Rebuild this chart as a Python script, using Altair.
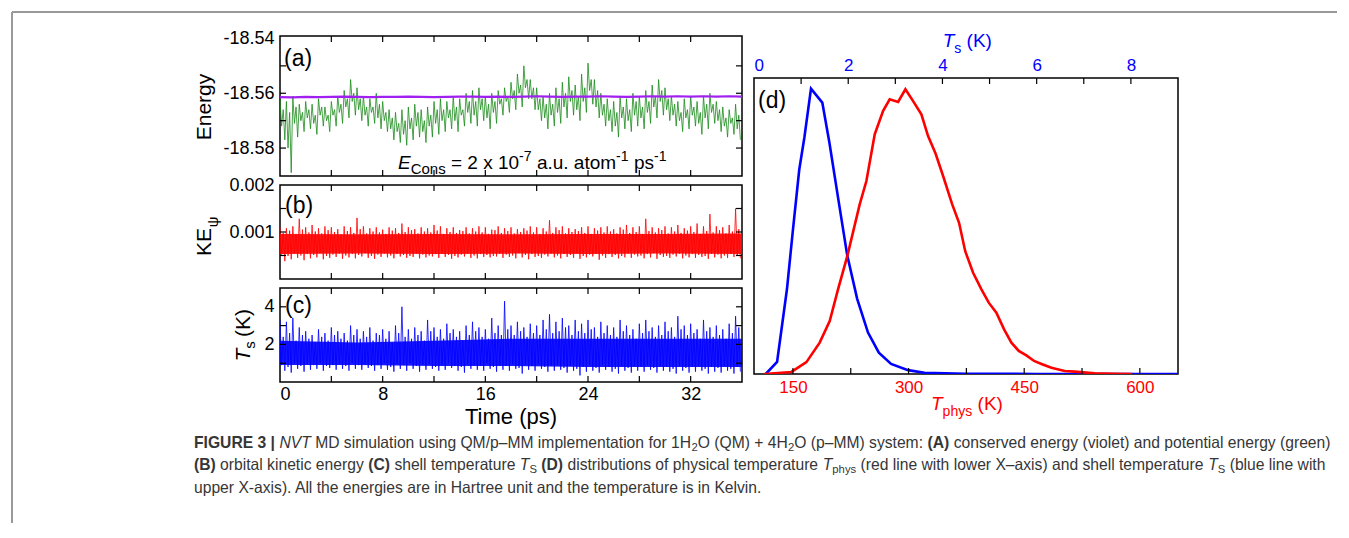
import altair as alt
import pandas as pd

FONT = "Liberation Sans"
DUMMY = pd.DataFrame({"k": [0]})

# ---------------- data ----------------
STEP = 0.5  # ps between successive groups of local extremes

# (a) potential energy (green): maxima (hi, hi2) and minima (lo, lo2) inside every 0.5 ps
green_hi = [-18.562, -18.563, -18.561, -18.564, -18.563, -18.564, -18.562, -18.565, -18.563, -18.561,
            -18.559, -18.555, -18.558, -18.561, -18.562, -18.560, -18.563, -18.566, -18.567, -18.566,
            -18.565, -18.564, -18.566, -18.565, -18.563, -18.562, -18.563, -18.561, -18.562, -18.560,
            -18.559, -18.558, -18.561, -18.560, -18.559, -18.558, -18.556, -18.553, -18.550, -18.555,
            -18.558, -18.561, -18.560, -18.558, -18.556, -18.554, -18.557, -18.553, -18.549, -18.555,
            -18.560, -18.562, -18.563, -18.561, -18.562, -18.560, -18.561, -18.559, -18.557, -18.555,
            -18.558, -18.561, -18.563, -18.562, -18.561, -18.563, -18.561, -18.560, -18.563, -18.565,
            -18.566, -18.564]
green_lo = [-18.577, -18.589, -18.576, -18.574, -18.573, -18.575, -18.572, -18.574, -18.572, -18.571,
            -18.569, -18.568, -18.570, -18.572, -18.571, -18.573, -18.574, -18.577, -18.578, -18.579,
            -18.577, -18.576, -18.578, -18.576, -18.575, -18.574, -18.573, -18.574, -18.572, -18.571,
            -18.572, -18.570, -18.573, -18.571, -18.568, -18.567, -18.566, -18.565, -18.562, -18.566,
            -18.570, -18.573, -18.572, -18.571, -18.569, -18.568, -18.570, -18.567, -18.564, -18.569,
            -18.572, -18.574, -18.576, -18.573, -18.574, -18.572, -18.573, -18.571, -18.569, -18.568,
            -18.570, -18.572, -18.574, -18.573, -18.572, -18.575, -18.573, -18.571, -18.574, -18.576,
            -18.575, -18.577]
green_hi2 = [-18.566, -18.567, -18.565, -18.567, -18.566, -18.568, -18.565, -18.568, -18.566, -18.564,
             -18.562, -18.560, -18.562, -18.565, -18.565, -18.564, -18.567, -18.569, -18.571, -18.570,
             -18.569, -18.567, -18.570, -18.568, -18.566, -18.566, -18.566, -18.565, -18.566, -18.563,
             -18.563, -18.562, -18.564, -18.563, -18.562, -18.561, -18.559, -18.557, -18.555, -18.558,
             -18.562, -18.564, -18.564, -18.562, -18.560, -18.559, -18.561, -18.558, -18.555, -18.559,
             -18.564, -18.566, -18.567, -18.565, -18.566, -18.563, -18.565, -18.563, -18.561, -18.559,
             -18.562, -18.564, -18.567, -18.566, -18.565, -18.567, -18.564, -18.564, -18.566, -18.569,
             -18.569, -18.568]
green_lo2 = [-18.572, -18.580, -18.571, -18.570, -18.569, -18.571, -18.568, -18.570, -18.568, -18.567,
             -18.565, -18.563, -18.566, -18.568, -18.567, -18.569, -18.570, -18.573, -18.574, -18.575,
             -18.573, -18.572, -18.574, -18.572, -18.571, -18.570, -18.569, -18.570, -18.568, -18.567,
             -18.568, -18.566, -18.569, -18.567, -18.564, -18.563, -18.562, -18.560, -18.558, -18.562,
             -18.566, -18.569, -18.568, -18.567, -18.565, -18.563, -18.566, -18.563, -18.559, -18.565,
             -18.568, -18.570, -18.572, -18.569, -18.570, -18.568, -18.569, -18.567, -18.565, -18.563,
             -18.566, -18.568, -18.570, -18.569, -18.568, -18.571, -18.569, -18.567, -18.570, -18.572,
             -18.571, -18.573]
# (a) conserved energy (violet), one value per ps
violet_t = list(range(0, 37))
violet_v = [-18.5614, -18.5615, -18.5613, -18.5614, -18.5613, -18.5612, -18.5613, -18.5614, -18.5613, -18.5613,
            -18.5612, -18.5613, -18.5614, -18.5613, -18.5612, -18.5612, -18.5613, -18.5612, -18.5613, -18.5612,
            -18.5611, -18.5612, -18.5613, -18.5612, -18.5612, -18.5611, -18.5612, -18.5613, -18.5612, -18.5611,
            -18.5612, -18.5611, -18.5612, -18.5611, -18.5612, -18.5611, -18.5612]

# (b) orbital kinetic energy (red)
ke_hi = [0.00110, 0.00108, 0.00112, 0.00128, 0.00110, 0.00115, 0.00108, 0.00112, 0.00110, 0.00106,
         0.00112, 0.00110, 0.00130, 0.00112, 0.00108, 0.00110, 0.00105, 0.00110, 0.00108, 0.00118,
         0.00110, 0.00106, 0.00110, 0.00108, 0.00115, 0.00112, 0.00108, 0.00110, 0.00104, 0.00110,
         0.00108, 0.00112, 0.00110, 0.00105, 0.00112, 0.00108, 0.00110, 0.00106, 0.00108, 0.00112,
         0.00110, 0.00108, 0.00125, 0.00110, 0.00112, 0.00108, 0.00106, 0.00110, 0.00112, 0.00108,
         0.00110, 0.00112, 0.00106, 0.00110, 0.00115, 0.00110, 0.00112, 0.00128, 0.00110, 0.00108,
         0.00112, 0.00110, 0.00115, 0.00108, 0.00112, 0.00118, 0.00112, 0.00138, 0.00112, 0.00110,
         0.00115, 0.00150]
ke_lo = [0.00038, 0.00042, 0.00045, 0.00040, 0.00044, 0.00046, 0.00042, 0.00045, 0.00047, 0.00043,
         0.00046, 0.00044, 0.00048, 0.00045, 0.00043, 0.00047, 0.00046, 0.00044, 0.00048, 0.00045,
         0.00047, 0.00044, 0.00046, 0.00048, 0.00045, 0.00047, 0.00043, 0.00046, 0.00048, 0.00045,
         0.00044, 0.00047, 0.00046, 0.00048, 0.00045, 0.00047, 0.00044, 0.00046, 0.00042, 0.00047,
         0.00045, 0.00048, 0.00046, 0.00044, 0.00047, 0.00045, 0.00043, 0.00046, 0.00048, 0.00041,
         0.00045, 0.00047, 0.00044, 0.00046, 0.00045, 0.00048, 0.00044, 0.00046, 0.00043, 0.00047,
         0.00045, 0.00048, 0.00044, 0.00046, 0.00045, 0.00047, 0.00043, 0.00046, 0.00044, 0.00045,
         0.00047, 0.00044]
ke_hi2 = [0.00098, 0.00103, 0.00096, 0.00105, 0.00099, 0.00101, 0.00097, 0.00104, 0.00100, 0.00095,
          0.00102, 0.00098, 0.00106, 0.00097, 0.00101, 0.00099, 0.00096, 0.00103, 0.00098, 0.00100,
          0.00104, 0.00097, 0.00101, 0.00099, 0.00103, 0.00096, 0.00100, 0.00098, 0.00102, 0.00097,
          0.00101, 0.00099, 0.00096, 0.00104, 0.00098, 0.00102, 0.00097, 0.00100, 0.00103, 0.00099,
          0.00096, 0.00101, 0.00098, 0.00104, 0.00097, 0.00100, 0.00102, 0.00098, 0.00096, 0.00103,
          0.00099, 0.00101, 0.00097, 0.00105, 0.00098, 0.00100, 0.00096, 0.00102, 0.00099, 0.00104,
          0.00097, 0.00101, 0.00098, 0.00103, 0.00100, 0.00096, 0.00102, 0.00099, 0.00104, 0.00097,
          0.00101, 0.00106]
ke_lo2 = [0.00052, 0.00049, 0.00054, 0.00050, 0.00053, 0.00051, 0.00055, 0.00049, 0.00052, 0.00054,
          0.00050, 0.00053, 0.00051, 0.00055, 0.00049, 0.00052, 0.00054, 0.00050, 0.00053, 0.00051,
          0.00049, 0.00054, 0.00052, 0.00050, 0.00053, 0.00055, 0.00051, 0.00049, 0.00052, 0.00054,
          0.00050, 0.00053, 0.00051, 0.00049, 0.00054, 0.00052, 0.00050, 0.00055, 0.00051, 0.00053,
          0.00049, 0.00052, 0.00054, 0.00050, 0.00053, 0.00051, 0.00055, 0.00049, 0.00052, 0.00054,
          0.00050, 0.00053, 0.00051, 0.00049, 0.00054, 0.00052, 0.00050, 0.00053, 0.00055, 0.00051,
          0.00049, 0.00052, 0.00054, 0.00050, 0.00053, 0.00051, 0.00049, 0.00054, 0.00052, 0.00050,
          0.00053, 0.00051]
core_t = [0, 6, 12, 18, 24, 30, 36]
ke_core_lo = [0.00053, 0.00054, 0.00053, 0.00054, 0.00053, 0.00054, 0.00053]
ke_core_hi = [0.00096, 0.00095, 0.00096, 0.00095, 0.00096, 0.00096, 0.00097]

# (c) shell temperature (blue)
ts_hi = [3.3, 3.2, 3.4, 2.9, 2.7, 2.5, 2.8, 2.6, 2.9, 2.7,
         2.6, 3.0, 2.8, 2.7, 2.9, 2.6, 2.8, 2.7, 3.0, 4.0,
         2.8, 2.9, 2.7, 3.3, 2.9, 2.8, 3.1, 2.8, 2.7, 3.0,
         3.2, 2.9, 2.8, 3.4, 3.0, 4.3, 3.0, 3.2, 2.9, 3.1,
         3.0, 3.3, 3.6, 3.2, 3.4, 3.0, 3.3, 3.1, 3.3, 2.9,
         3.2, 3.0, 2.9, 3.3, 3.0, 2.8, 3.1, 3.3, 2.9, 3.0,
         3.2, 2.9, 3.5, 3.0, 3.1, 2.8, 3.3, 2.9, 3.0, 2.8,
         3.1, 3.5]
ts_lo = [0.6, 0.5, 0.7, 0.55, 0.65, 0.7, 0.6, 0.75, 0.65, 0.7,
         0.6, 0.7, 0.65, 0.75, 0.6, 0.7, 0.65, 0.55, 0.7, 0.6,
         0.7, 0.55, 0.65, 0.7, 0.6, 0.65, 0.75, 0.6, 0.5, 0.7,
         0.65, 0.6, 0.7, 0.55, 0.65, 0.6, 0.7, 0.45, 0.65, 0.6,
         0.7, 0.55, 0.6, 0.65, 0.5, 0.6, 0.35, 0.55, 0.6, 0.5,
         0.65, 0.55, 0.45, 0.6, 0.5, 0.6, 0.55, 0.65, 0.5, 0.6,
         0.55, 0.45, 0.6, 0.5, 0.55, 0.6, 0.45, 0.55, 0.5, 0.6,
         0.45, 0.55]
ts_hi2 = [2.4, 2.6, 2.2, 2.5, 2.3, 2.1, 2.4, 2.2, 2.5, 2.3,
          2.2, 2.5, 2.3, 2.4, 2.2, 2.5, 2.3, 2.1, 2.6, 2.4,
          2.3, 2.5, 2.2, 2.7, 2.4, 2.3, 2.6, 2.4, 2.2, 2.5,
          2.7, 2.4, 2.3, 2.6, 2.5, 2.8, 2.5, 2.7, 2.4, 2.6,
          2.5, 2.8, 2.6, 2.7, 2.9, 2.5, 2.7, 2.6, 2.8, 2.4,
          2.6, 2.5, 2.4, 2.7, 2.5, 2.3, 2.6, 2.7, 2.4, 2.5,
          2.7, 2.4, 2.8, 2.5, 2.6, 2.3, 2.7, 2.4, 2.5, 2.3,
          2.6, 2.9]
ts_lo2 = [0.9, 0.8, 1.0, 0.85, 0.95, 0.9, 1.0, 0.85, 0.9, 0.95,
          0.85, 1.0, 0.9, 0.95, 0.85, 0.9, 1.0, 0.8, 0.95, 0.9,
          1.0, 0.85, 0.9, 0.95, 0.8, 0.9, 1.0, 0.85, 0.8, 0.95,
          0.9, 0.85, 1.0, 0.8, 0.9, 0.85, 0.95, 0.75, 0.9, 0.85,
          0.95, 0.8, 0.85, 0.9, 0.75, 0.85, 0.7, 0.8, 0.9, 0.75,
          0.9, 0.8, 0.7, 0.85, 0.75, 0.85, 0.8, 0.9, 0.75, 0.85,
          0.8, 0.7, 0.85, 0.75, 0.8, 0.85, 0.7, 0.8, 0.75, 0.85,
          0.7, 0.8]
ts_core_lo = [0.9, 0.9, 0.85, 0.85, 0.8, 0.8, 0.8]
ts_core_hi = [2.2, 2.1, 2.2, 2.3, 2.3, 2.3, 2.3]

# (d) distributions
tphys_T = [113, 148, 167.5, 184.7, 197.7, 208.5, 220.6, 236.6, 245.3, 256.1, 267, 275.5, 286.4, 295.9,
           305.9, 316.6, 325.3, 335, 344.8, 356.5, 365.5, 373.5, 383.7, 394.5, 404, 413.9, 423.9,
           433.4, 442.9, 452.8, 462.8, 473.2, 485.3, 502.5, 515.5, 541.5, 567.5, 590]
tphys_p = [0, 0.007, 0.04, 0.106, 0.179, 0.286, 0.399, 0.573, 0.652, 0.81, 0.889, 0.928, 0.919, 0.962,
           0.922, 0.877, 0.804, 0.745, 0.669, 0.574, 0.511, 0.415, 0.342, 0.286, 0.241, 0.207, 0.151,
           0.106, 0.078, 0.063, 0.044, 0.033, 0.021, 0.010, 0.008, 0.002, 0.001, 0]
tsd_T = [0.25, 0.49, 0.70, 0.82, 0.96, 1.07, 1.21, 1.45, 1.60, 1.78, 1.98, 2.19, 2.42, 2.65, 2.91,
         3.27, 3.62, 4.5, 6.0, 9.0]
tsd_p = [0, 0.041, 0.287, 0.477, 0.69, 0.80, 0.964, 0.917, 0.782, 0.600, 0.40, 0.254, 0.14, 0.072,
         0.034, 0.013, 0.004, 0.001, 0, 0]

# tick values
time_labels = [0, 8, 16, 24, 32]
time_ticks = [4, 8, 12, 16, 20, 24, 28, 32]
energy_labels = [-18.54, -18.56, -18.58]
energy_ticks = [-18.55, -18.56, -18.57, -18.58]
ke_labels = [0.001, 0.002]
ke_ticks = [0.0005, 0.001, 0.0015]
ts_labels = [2, 4]
ts_ticks = [1, 2, 3, 4]
tphys_labels = [150, 300, 450, 600]
tphys_ticks = [150, 225, 300, 375, 450, 525, 600]
tstop_labels = [0, 2, 4, 6, 8]
tstop_ticks = [1, 2, 3, 4, 5, 6, 7, 8]

# ---------------- helpers ----------------
W_REG = {' ': 278, '(': 333, ')': 333, '+': 584, ',': 278, '-': 333, '.': 278, '/': 278, ':': 278,
         '=': 584, '|': 260, '\u2013': 556,
         'A': 667, 'B': 667, 'C': 722, 'D': 722, 'E': 667, 'F': 611, 'G': 778, 'H': 722, 'I': 278,
         'J': 500, 'K': 667, 'L': 556, 'M': 833, 'N': 722, 'O': 778, 'P': 667, 'Q': 778, 'R': 722,
         'S': 667, 'T': 611, 'U': 722, 'V': 667, 'W': 944, 'X': 667, 'Y': 667, 'Z': 611,
         'a': 556, 'b': 556, 'c': 500, 'd': 556, 'e': 556, 'f': 278, 'g': 556, 'h': 556, 'i': 222,
         'j': 222, 'k': 500, 'l': 222, 'm': 833, 'n': 556, 'o': 556, 'p': 556, 'q': 556, 'r': 333,
         's': 500, 't': 278, 'u': 556, 'v': 500, 'w': 722, 'x': 500, 'y': 500, 'z': 500}
for _d in "0123456789":
    W_REG[_d] = 556
W_BOLD = dict(W_REG)
W_BOLD.update({'A': 722, 'B': 722, 'C': 722, 'D': 722, '|': 280})


def tw(s, size, bold=False):
    tb = W_BOLD if bold else W_REG
    return sum(tb.get(c, 556) for c in s) * size / 1000.0


def seg_size(kind, base, sub_r, sup_r):
    if kind == "sub":
        return base * sub_r
    if kind == "sup":
        return base * sup_r
    return base


def seg_width(segs, base, sub_r=0.72, sup_r=0.72):
    return sum(tw(t, seg_size(k, base, sub_r, sup_r), k == "bold") for t, k in segs)


def seg_marks(segs, x0, y0, color, base, sub_r=0.72, sup_r=0.72, sub_dy=0.22, sup_dy=-0.4):
    marks = []
    x = x0
    for text, kind in segs:
        size = seg_size(kind, base, sub_r, sup_r)
        bold = kind == "bold"
        dy = base * sub_dy if kind == "sub" else (base * sup_dy if kind == "sup" else 0)
        lead = len(text) - len(text.lstrip(" "))
        body = text.strip(" ")
        if body:
            kw = dict(text=body, font=FONT, fontSize=size, align="left", baseline="alphabetic", color=color)
            if bold:
                kw["fontWeight"] = "bold"
            if kind == "ital":
                kw["fontStyle"] = "italic"
            marks.append(alt.Chart(DUMMY).mark_text(**kw).encode(
                x=alt.value(x + tw(" " * lead, size, bold)), y=alt.value(y0 + dy)))
        x += tw(text, size, bold)
    return marks


def label(text, x, y, size=23, color="black", angle=None, style=None, align="left"):
    kw = dict(text=text, font=FONT, fontSize=size, align=align, baseline="middle", color=color)
    if angle is not None:
        kw["angle"] = angle
    if style:
        kw["fontStyle"] = style
    return alt.Chart(DUMMY).mark_text(**kw).encode(x=alt.value(x), y=alt.value(y))


def zigzag(hi, lo2, hi2, lo):
    rows = []
    q = STEP / 4
    for i in range(len(hi)):
        t0 = STEP * i
        rows.append({"t": t0, "v": hi[i], "o": 4 * i})
        rows.append({"t": t0 + q, "v": lo2[i], "o": 4 * i + 1})
        rows.append({"t": t0 + 2 * q, "v": hi2[i], "o": 4 * i + 2})
        rows.append({"t": t0 + 3 * q, "v": lo[i], "o": 4 * i + 3})
    return pd.DataFrame(rows)


TSCALE = alt.Scale(domain=[0, 36], nice=False, zero=False)


def xenc(axis=None):
    return alt.X("t:Q", scale=TSCALE, axis=axis)


def tick_layers(xvals, yvals, W, H, xe, ye, L=6):
    out = []
    dx = pd.DataFrame({"t": xvals})
    dy = pd.DataFrame({"v": yvals})
    out.append(alt.Chart(dx).mark_rule(color="black", strokeWidth=1.2).encode(x=xe, y=alt.value(H), y2=alt.value(H - L)))
    out.append(alt.Chart(dx).mark_rule(color="black", strokeWidth=1.2).encode(x=xe, y=alt.value(0), y2=alt.value(L)))
    out.append(alt.Chart(dy).mark_rule(color="black", strokeWidth=1.2).encode(y=ye, x=alt.value(0), x2=alt.value(L)))
    out.append(alt.Chart(dy).mark_rule(color="black", strokeWidth=1.2).encode(y=ye, x=alt.value(W), x2=alt.value(W - L)))
    return out


def yaxis(values, expr):
    return alt.Axis(values=values, labelExpr=expr, ticks=False, domain=False, grid=False, title=None,
                    labelFontSize=18, labelPadding=6, labelFont=FONT, labelColor="black")


W_L = 462
H_A, H_B, H_C = 140, 94, 94

# ---------------- panel (a) ----------------
ya = alt.Y("v:Q", scale=alt.Scale(domain=[-18.5902, -18.5391], nice=False, zero=False),
           axis=yaxis(energy_labels, "replace(format(datum.value, '.2f'), '\u2212', '-')"))
green = alt.Chart(zigzag(green_hi, green_lo2, green_hi2, green_lo)).mark_line(
    color="#1b8a1b", strokeWidth=0.8, clip=True).encode(x=xenc(), y=ya, order="o:Q")
violet = alt.Chart(pd.DataFrame({"t": violet_t, "v": violet_v})).mark_line(
    color="#a020f0", strokeWidth=2.2, clip=True).encode(x=xenc(), y=ya)

econs = seg_marks([("E", "ital"), ("Cons", "sub"), (" = 2 x 10", "reg"), ("-7", "sup"),
                   (" a.u. atom", "reg"), ("-1", "sup"), (" ps", "reg"), ("-1", "sup")],
                  118, 133, "black", 19, sub_r=0.79, sup_r=0.74, sub_dy=0.28, sup_dy=-0.42)

# caption (positions relative to panel (a) origin)
cap1 = [("FIGURE 3 | ", "bold"), ("NVT", "ital"),
        (" MD simulation using QM/p\u2013MM implementation for 1H", "reg"), ("2", "sub"),
        ("O (QM) + 4H", "reg"), ("2", "sub"), ("O (p\u2013MM) system: ", "reg"), ("(A)", "bold"),
        (" conserved energy (violet) and potential energy (green)", "reg")]
cap2 = [("(B)", "bold"), (" orbital kinetic energy ", "reg"), ("(C)", "bold"), (" shell temperature ", "reg"),
        ("T", "ital"), ("S", "sub"), (" ", "reg"), ("(D)", "bold"),
        (" distributions of physical temperature ", "reg"), ("T", "ital"), ("phys", "sub"),
        (" (red line with lower X\u2013axis) and shell temperature ", "reg"), ("T", "ital"), ("S", "sub"),
        (" (blue line with", "reg")]
cap3 = [("upper X-axis). All the energies are in Hartree unit and the temperature is in Kelvin.", "reg")]
CAP_X0 = 193 - 279
CAP_SIZE = (1330 - 193) / seg_width(cap1, 1.0)
CAP_COLOR = "#363636"
caption = (seg_marks(cap1, CAP_X0, 446.5 - 35, CAP_COLOR, CAP_SIZE)
           + seg_marks(cap2, CAP_X0, 468.5 - 35, CAP_COLOR, CAP_SIZE)
           + seg_marks(cap3, CAP_X0, 491.5 - 35, CAP_COLOR, CAP_SIZE))

border = [
    alt.Chart(DUMMY).mark_rule(color="#333333", strokeWidth=1).encode(
        x=alt.value(-268), x2=alt.value(1057), y=alt.value(-24)),
    alt.Chart(DUMMY).mark_rule(color="#9a9a9a", strokeWidth=2).encode(
        x=alt.value(-268), y=alt.value(-24), y2=alt.value(487)),
]

panel_a = alt.layer(
    green, violet,
    *tick_layers(time_ticks, energy_ticks, W_L, H_A, xenc(), ya),
    label("(a)", 4, 23),
    label("Energy", -75, 71, size=21, angle=270, align="center"),
    *econs, *caption, *border,
).properties(width=W_L, height=H_A)

# ---------------- panel (b) ----------------
yb = alt.Y("v:Q", scale=alt.Scale(domain=[0, 0.002], nice=False, zero=False),
           axis=yaxis(ke_labels, "format(datum.value, '.3f')"))
ke_core = alt.Chart(pd.DataFrame({"t": core_t, "v": ke_core_lo, "v2": ke_core_hi})).mark_area(
    color="#ff0000", opacity=0.9, clip=True).encode(x=xenc(), y=yb, y2="v2:Q")
ke_line = alt.Chart(zigzag(ke_hi, ke_lo2, ke_hi2, ke_lo)).mark_line(
    color="#ff0000", strokeWidth=0.8, clip=True).encode(x=xenc(), y=yb, order="o:Q")
panel_b = alt.layer(
    ke_core, ke_line,
    *tick_layers(time_ticks, ke_ticks, W_L, H_B, xenc(), yb),
    label("(b)", 5, 21),
    label("KE", -75, 57, size=21, angle=270, align="center"),
    label("\u03c8", -67, 37, size=15, angle=270, align="center"),
).properties(width=W_L, height=H_B)

# ---------------- panel (c) ----------------
xc_axis = alt.Axis(values=time_labels, ticks=False, domain=False, grid=False, title=None, labelFontSize=18,
                   labelPadding=3, labelFont=FONT, labelColor="black")
yc = alt.Y("v:Q", scale=alt.Scale(domain=[0, 5], nice=False, zero=False),
           axis=yaxis(ts_labels, "format(datum.value, 'd')"))
ts_core = alt.Chart(pd.DataFrame({"t": core_t, "v": ts_core_lo, "v2": ts_core_hi})).mark_area(
    color="#0000ff", opacity=0.9, clip=True).encode(x=xenc(xc_axis), y=yc, y2="v2:Q")
ts_line = alt.Chart(zigzag(ts_hi, ts_lo2, ts_hi2, ts_lo)).mark_line(
    color="#0000ff", strokeWidth=0.8, clip=True).encode(x=xenc(xc_axis), y=yc, order="o:Q")
panel_c = alt.layer(
    ts_core, ts_line,
    *tick_layers(time_ticks, ts_ticks, W_L, H_C, xenc(xc_axis), yc),
    label("(c)", 5, 18),
    label("T", -36, 67, size=21, angle=270, align="center", style="italic"),
    label("s", -30, 57, size=15, angle=270, align="center"),
    label("(K)", -36, 35, size=21, angle=270, align="center"),
    label("Time (ps)", 231, 129, size=22, align="center"),
).properties(width=W_L, height=H_C)

# ---------------- panel (d) ----------------
W_D, H_D = 424, 296
yd = alt.Y("p:Q", scale=alt.Scale(domain=[0, 1], nice=False, zero=False), axis=None)
xr_axis = alt.Axis(values=tphys_labels, orient="bottom", ticks=False, domain=False, grid=False, title=None,
                   labelFontSize=17, labelPadding=5, labelFont=FONT, labelColor="#ff0000")
xb_axis = alt.Axis(values=tstop_labels, orient="top", ticks=False, domain=False, grid=False, title=None,
                   labelFontSize=17, labelPadding=4, labelFont=FONT, labelColor="#0000ff")
xr = alt.X("T:Q", scale=alt.Scale(domain=[99.5, 649.5], nice=False, zero=False), axis=xr_axis)
xb = alt.X("Ts:Q", scale=alt.Scale(domain=[0, 9], nice=False, zero=False), axis=xb_axis)

red_line = alt.Chart(pd.DataFrame({"T": tphys_T, "p": tphys_p})).mark_line(
    color="#ff0000", strokeWidth=2.6, clip=True).encode(x=xr, y=yd)
red_ticks = alt.Chart(pd.DataFrame({"T": tphys_ticks})).mark_rule(color="black", strokeWidth=1.2).encode(
    x=xr, y=alt.value(H_D), y2=alt.value(H_D - 6))
blue_line = alt.Chart(pd.DataFrame({"Ts": tsd_T, "p": tsd_p})).mark_line(
    color="#0000ff", strokeWidth=2.6, clip=True).encode(x=xb, y=yd)
blue_ticks = alt.Chart(pd.DataFrame({"Ts": tstop_ticks})).mark_rule(color="black", strokeWidth=1.2).encode(
    x=xb, y=alt.value(0), y2=alt.value(6))

top_title = seg_marks([("T", "ital"), ("s", "sub"), (" (K)", "reg")], 188.7, -31, "#0000ff", 19,
                      sub_r=0.74, sub_dy=0.3)
bot_title = seg_marks([("T", "ital"), ("phys", "sub"), (" (K)", "reg")], 177, 332, "#ff0000", 19,
                      sub_r=0.74, sub_dy=0.3)

red_group = alt.layer(red_line, red_ticks, label("(d)", 4, 23), *top_title, *bot_title)
blue_group = alt.layer(blue_line, blue_ticks)
panel_d = alt.layer(blue_group, red_group).resolve_scale(x="independent").properties(width=W_D, height=H_D)

spacer = alt.Chart(DUMMY).mark_text(text="", font=FONT).encode(x=alt.value(0), y=alt.value(0)).properties(
    width=W_D, height=32, view=alt.ViewBackground(stroke="transparent"))

left_col = alt.vconcat(panel_a, panel_b, panel_c, spacing=9, bounds="flush")
right_col = alt.vconcat(spacer, panel_d, spacing=10, bounds="flush")

# nested columns have no intrinsic width in a flush layout, so the gap carries the left column width
chart = alt.hconcat(left_col, right_col, spacing=W_L + 12, bounds="flush").properties(
    padding={"left": 2, "top": 2, "right": 0, "bottom": 0},
    background="white",
).configure_view(stroke="black", strokeWidth=1.5).configure_axis(labelFont=FONT)

chart.save("out.html", embed_options={"renderer": "svg", "actions": False})
